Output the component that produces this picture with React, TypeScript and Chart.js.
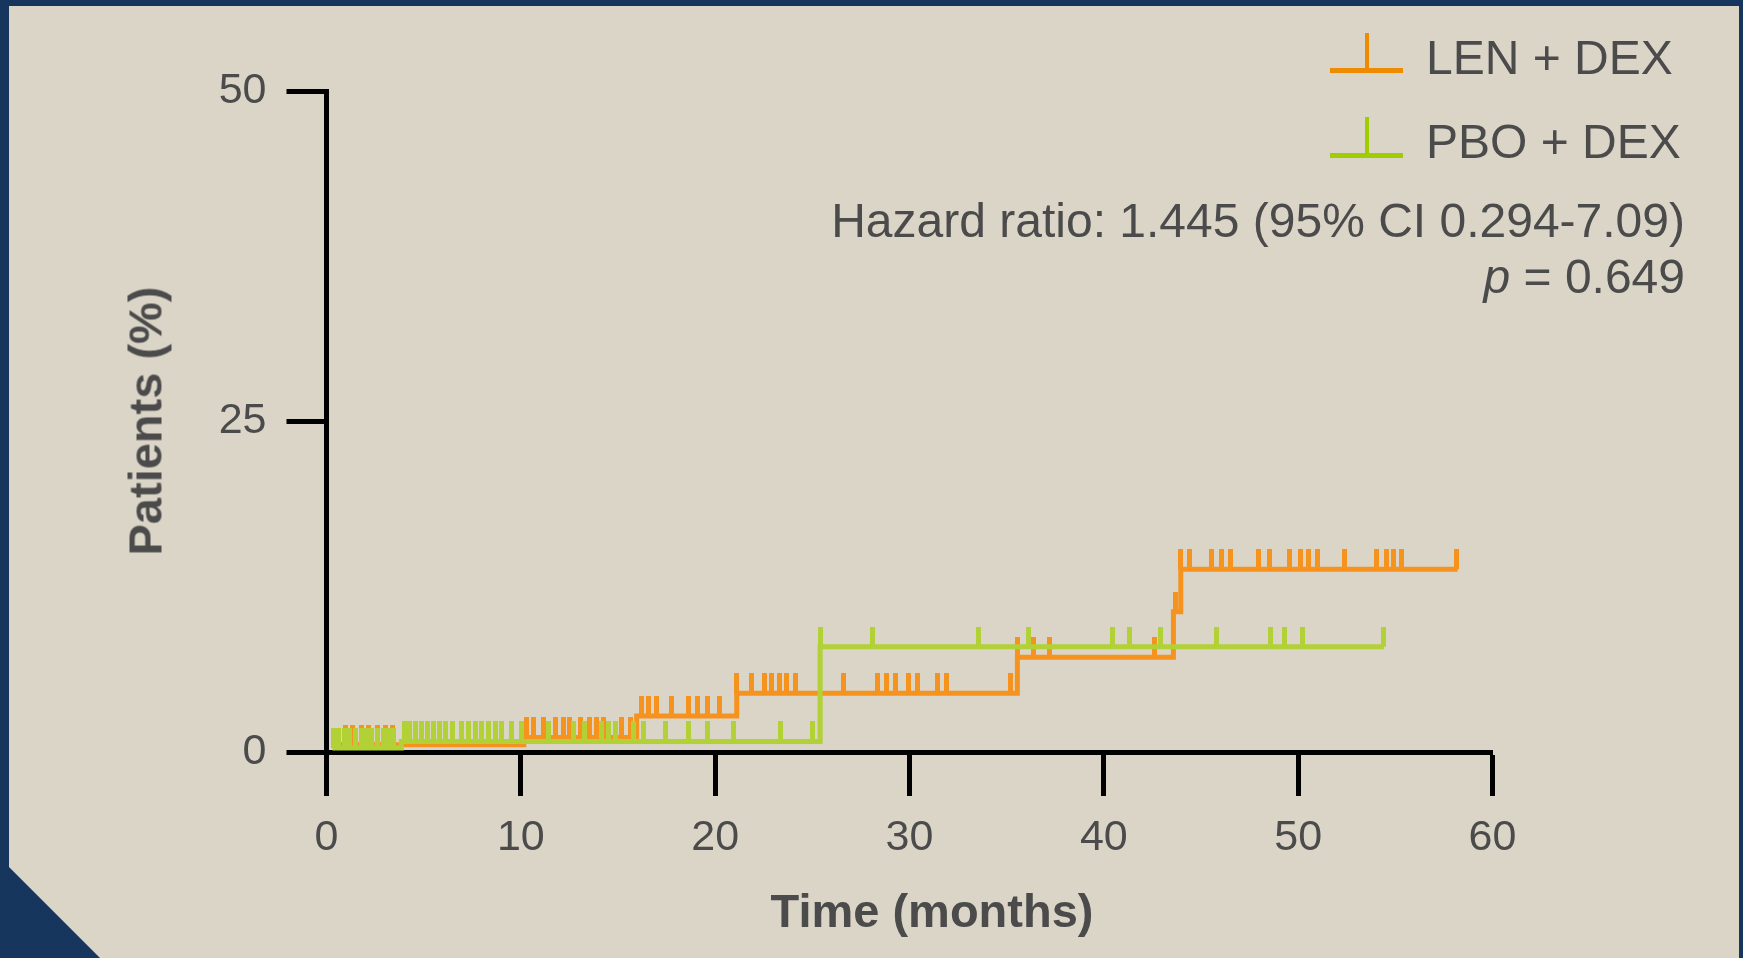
import React, { useEffect, useRef } from 'react';
import { Chart, registerables } from 'chart.js';

Chart.register(...registerables);

// ---- Data (months, cumulative %) ----
const lenTimes = [0.3, 10.15, 15.96, 21.11, 35.55, 43.58, 43.96, 58.2];
const lenValues = [0.55, 1.1, 2.72, 4.44, 7.16, 10.61, 13.82, 13.82];
const lenCensored = [
  0.97, 1.35, 1.79, 2.17, 2.6, 3.03, 3.41, 10.3, 10.64, 11.16, 11.76, 12.19, 12.53,
  13.05, 13.53, 13.91, 14.25, 15.19, 15.62, 16.22, 16.56, 16.99, 17.73, 18.62, 19.08,
  19.62, 20.22, 21.11, 21.88, 22.53, 22.88, 23.3, 23.69, 24.11, 26.6, 28.35, 28.83,
  29.26, 29.94, 30.41, 31.44, 31.92, 35.18, 35.55, 36.38, 37.2, 42.59, 43.71, 43.96,
  44.41, 45.56, 46.07, 46.5, 47.96, 48.52, 49.55, 50.1, 50.53, 51.01, 52.38, 54.05,
  54.57, 54.9, 55.34, 58.15,
];

const pboTimes = [0.3, 3.85, 25.4, 54.42];
const pboValues = [0.3, 0.8, 7.97, 7.97];
const pboCensored = [
  0.37, 0.63, 0.94, 1.19, 1.48, 1.79, 2.08, 2.34, 2.65, 2.94, 3.2, 3.46, 4.02, 4.26,
  4.57, 4.91, 5.22, 5.52, 5.81, 6.11, 6.46, 6.97, 7.32, 7.66, 8.0, 8.35, 8.69, 9.02,
  9.53, 10.05, 11.42, 12.7, 13.3, 14.16, 14.5, 14.85, 15.79, 16.31, 17.42, 18.62,
  19.62, 20.94, 23.34, 25.0, 25.4, 28.09, 33.55, 36.12, 40.46, 41.32, 42.9, 45.78,
  48.56, 49.28, 50.24, 54.38,
];

const xTicks = [0, 10, 20, 30, 40, 50, 60];
const yTicks = [0, 25, 50];

const seriesLabels = ['LEN + DEX', 'PBO + DEX'];
const hazardText = 'Hazard ratio: 1.445 (95% CI 0.294-7.09)';
const pText = '= 0.649';
const xTitle = 'Time (months)';
const yTitle = 'Patients (%)';

// ---- Styles ----
const ORANGE = '#F6921E';
const GREEN = '#B1D136';
const LEG_ORANGE = '#EF8B00';
const LEG_GREEN = '#A0CC00';
const TEXT = '#4b4b4b';
const NAVY = '#17365D';
const BG = '#DBD5C8';
const FONT = "'Liberation Sans', Arial, Helvetica, sans-serif";

function valueAt(times: number[], values: number[], t: number): number {
  let v = values[0];
  for (let i = 0; i < times.length; i++) {
    if (t >= times[i] - 1e-9) v = values[i];
  }
  return v;
}

function makeTick(color: string): HTMLCanvasElement {
  const c = document.createElement('canvas');
  c.width = 5;
  c.height = 40;
  const g = c.getContext('2d')!;
  g.fillStyle = color;
  g.fillRect(0, 0, 5, 20);
  return c;
}

export default function App() {
  const ref = useRef<HTMLCanvasElement>(null);

  useEffect(() => {
    const canvas = ref.current!;
    const greenTick = makeTick(GREEN);
    const orangeTick = makeTick(ORANGE);

    const chart = new Chart(canvas, {
      type: 'line',
      data: {
        datasets: [
          {
            label: seriesLabels[1],
            data: pboTimes.map((t, i) => ({ x: t, y: pboValues[i] })),
            borderColor: GREEN,
            borderWidth: 5,
            stepped: 'before',
            pointRadius: 0,
            fill: false,
            borderCapStyle: 'butt',
            borderJoinStyle: 'miter',
          },
          {
            label: seriesLabels[1] + ' censored',
            data: pboCensored.map((t) => ({ x: t, y: valueAt(pboTimes, pboValues, t) })),
            showLine: false,
            pointStyle: greenTick as any,
            pointRadius: 3,
            borderWidth: 0,
          },
          {
            label: seriesLabels[0],
            data: lenTimes.map((t, i) => ({ x: t, y: lenValues[i] })),
            borderColor: ORANGE,
            borderWidth: 5,
            stepped: 'before',
            pointRadius: 0,
            fill: false,
            borderCapStyle: 'butt',
            borderJoinStyle: 'miter',
          },
          {
            label: seriesLabels[0] + ' censored',
            data: lenCensored.map((t) => ({ x: t, y: valueAt(lenTimes, lenValues, t) })),
            showLine: false,
            pointStyle: orangeTick as any,
            pointRadius: 3,
            borderWidth: 0,
          },
        ],
      },
      options: {
        responsive: false,
        animation: false,
        events: [],
        devicePixelRatio: 1,
        layout: { padding: { left: 0, top: 91, right: 250.5, bottom: 0 } },
        plugins: { legend: { display: false }, tooltip: { enabled: false } },
        scales: {
          x: {
            type: 'linear',
            min: xTicks[0],
            max: xTicks[xTicks.length - 1],
            afterBuildTicks: (s: any) => {
              s.ticks = xTicks.map((v) => ({ value: v }));
            },
            ticks: {
              font: { family: FONT, size: 43 },
              color: TEXT,
              padding: 16,
              maxRotation: 0,
              autoSkip: false,
            },
            grid: {
              drawOnChartArea: false,
              drawTicks: true,
              tickLength: 44,
              tickWidth: 5,
              tickColor: '#000',
            },
            border: { display: true, color: '#000', width: 5 },
            afterFit: (s: any) => {
              s.height = 206;
            },
          },
          y: {
            type: 'linear',
            min: yTicks[0],
            max: yTicks[yTicks.length - 1],
            afterBuildTicks: (s: any) => {
              s.ticks = yTicks.map((v) => ({ value: v }));
            },
            ticks: {
              font: { family: FONT, size: 43 },
              color: TEXT,
              padding: 20,
              autoSkip: false,
            },
            grid: {
              drawOnChartArea: false,
              drawTicks: true,
              tickLength: 40,
              tickWidth: 5,
              tickColor: '#000',
            },
            border: { display: true, color: '#000', width: 5 },
            afterFit: (s: any) => {
              s.width = 326.5;
            },
          },
        },
      },
    });
    return () => chart.destroy();
  }, []);

  const abs = (o: React.CSSProperties): React.CSSProperties => ({ position: 'absolute', ...o });
  const txt: React.CSSProperties = {
    fontFamily: FONT,
    fontSize: 48,
    lineHeight: '48px',
    color: TEXT,
    whiteSpace: 'nowrap',
  };

  return (
    <div
      style={{
        position: 'fixed',
        left: 0,
        top: 0,
        width: 1743,
        height: 958,
        background: BG,
        overflow: 'hidden',
      }}
    >
      {/* navy frame */}
      <div style={abs({ left: 0, top: 0, width: 1743, height: 6, background: NAVY })} />
      <div style={abs({ left: 0, top: 0, width: 9, height: 958, background: NAVY })} />
      <div style={abs({ left: 1739, top: 0, width: 4, height: 958, background: NAVY })} />
      <div
        style={abs({
          left: 0,
          top: 858,
          width: 100,
          height: 100,
          background: NAVY,
          clipPath: 'polygon(0 0, 100% 100%, 0 100%)',
        })}
      />

      <canvas ref={ref} width={1743} height={958} style={abs({ left: 0, top: 0, width: 1743, height: 958 })} />

      {/* legend */}
      <div style={abs({ left: 1330, top: 67.5, width: 73, height: 5, background: LEG_ORANGE })} />
      <div style={abs({ left: 1364.5, top: 33, width: 4.5, height: 37, background: LEG_ORANGE })} />
      <div style={abs({ ...txt, left: 1426, top: 34 })}>{seriesLabels[0]}</div>

      <div style={abs({ left: 1330, top: 152.5, width: 73, height: 5, background: LEG_GREEN })} />
      <div style={abs({ left: 1364.5, top: 117, width: 4.5, height: 38, background: LEG_GREEN })} />
      <div style={abs({ ...txt, left: 1426, top: 117.5 })}>{seriesLabels[1]}</div>

      {/* annotation */}
      <div style={abs({ ...txt, right: 58, top: 197, textAlign: 'right' })}>{hazardText}</div>
      <div style={abs({ ...txt, right: 58, top: 253, textAlign: 'right' })}>
        <i>p</i> {pText}
      </div>

      {/* axis titles */}
      <div
        style={abs({
          ...txt,
          fontSize: 47,
          lineHeight: '47px',
          fontWeight: 'bold',
          left: 932,
          top: 887,
          transform: 'translateX(-50%)',
        })}
      >
        {xTitle}
      </div>
      <div
        style={abs({
          ...txt,
          fontSize: 47,
          lineHeight: '47px',
          fontWeight: 'bold',
          left: 145,
          top: 421,
          transform: 'translate(-50%, -50%) rotate(-90deg)',
        })}
      >
        {yTitle}
      </div>
    </div>
  );
}
